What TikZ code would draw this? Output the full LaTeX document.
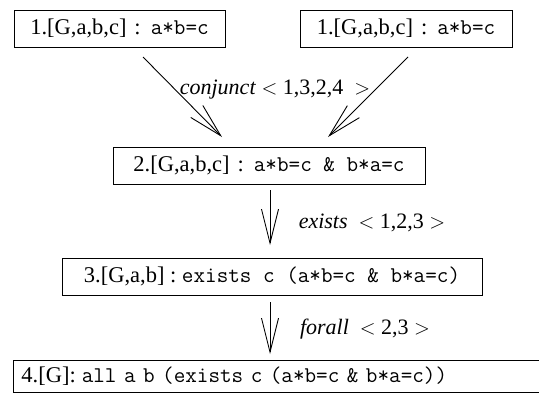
\documentclass[tikz,border=0pt]{standalone}
\usepackage{fontspec}
\setmainfont{Liberation Serif}
\usetikzlibrary{arrows.meta}
\newcommand\mymono[1]{{\ttfamily\addfontfeatures{LetterSpace=4.8}#1}}
\begin{document}
\begin{tikzpicture}[x=1pt,y=-1pt,
  box/.style={draw, line width=0.8pt, inner sep=0pt, font=\fontsize{22.5}{24}\selectfont},
  lbl/.style={font=\fontsize{22}{24}\selectfont, inner sep=0pt},
  arr/.style={line width=0.9pt, -{Straight Barb[length=34pt,width=17pt,line width=0.9pt]}}]
\clip (0,0) rectangle (539,394);
\fill[white] (0,0) rectangle (539,394);
\node[box, minimum width=211pt, minimum height=37pt] (a) at (119.5,28.5) {1.[G,a,b,c]\hspace{8pt}:\hspace{10pt}\mymono{a*b=c}};
\node[box, minimum width=212pt, minimum height=37pt] (b) at (406,28.5) {1.[G,a,b,c]\hspace{8pt}:\hspace{10pt}\mymono{a*b=c}};
\node[box, minimum width=312pt, minimum height=37pt] (c) at (269,165.5) {2.[G,a,b,c]\hspace{8pt}:\hspace{10pt}\mymono{a*b=c \& b*a=c}};
\node[box, minimum width=420pt, minimum height=37pt] (d) at (272,276.5) {3.[G,a,b] :\ \mymono{exists c (a*b=c \& b*a=c)}};
\node[box, anchor=north west, minimum height=32pt, inner xsep=8pt, text width=540pt, align=left] (e) at (13,360) {4.[G]:\hspace{6pt}\mymono{all a b (exists c (a*b=c \& b*a=c))}};
\coordinate (a1) at (143,57);
\coordinate (a2) at (222,137);
\coordinate (b1) at (408,57);
\coordinate (b2) at (328,137);
\coordinate (c1) at (270,190);
\coordinate (c2) at (270,245);
\coordinate (d1) at (270,302);
\coordinate (d2) at (270,354);
\draw[arr] (a1) -- (a2);
\draw[arr] (b1) -- (b2);
\draw[arr] (c1) -- (c2);
\draw[arr] (d1) -- (d2);
\node[lbl] (l1) at (275,90) {\textit{conjunct} $<$ 1,3,2,4\ \ $>$};
\node[lbl] (l2) at (372,223) {\textit{exists}\ \ $<$ 1,2,3 $>$};
\node[lbl] (l3) at (365,329) {\textit{forall}\ \ $<$ 2,3 $>$};
\end{tikzpicture}
\end{document}
